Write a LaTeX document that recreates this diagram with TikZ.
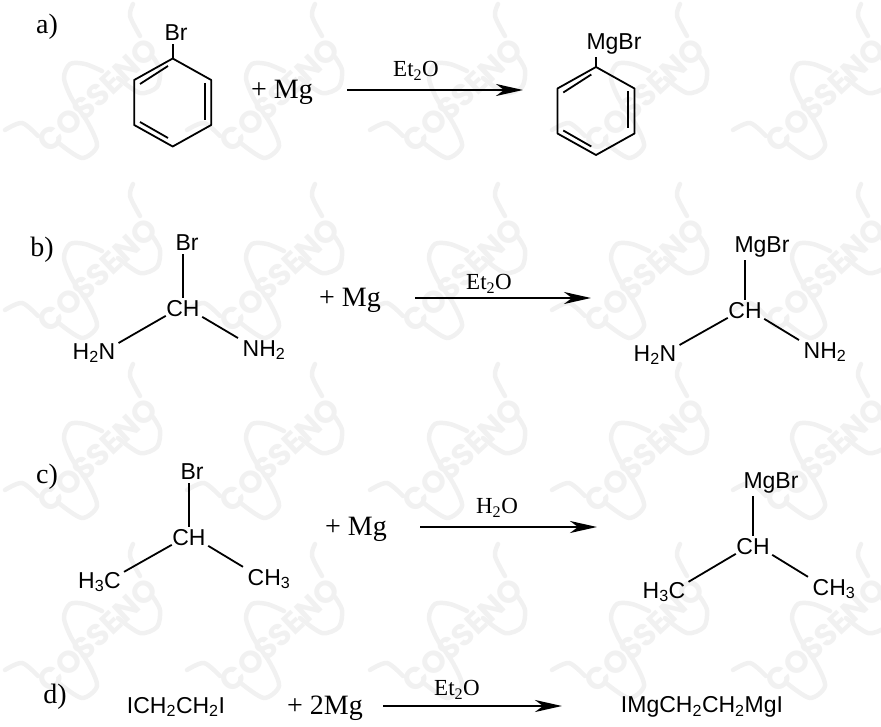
\documentclass[tikz,border=0pt]{standalone}
\usepackage{fontspec}
\setmainfont{Liberation Serif}
\setsansfont{Liberation Sans}
\newfontfamily\wmfont{Poppins}
\usetikzlibrary{arrows.meta}
\definecolor{wmgray}{HTML}{F1F1F1}
\tikzset{%
  >={Stealth[length=27pt,width=12pt,inset=8pt]},
  % Specifications for style of nodes:
     atoms/.style = {font=\sffamily\fontsize{23}{23}\selectfont, inner sep=3pt},
     serif/.style = {font=\rmfamily\fontsize{28}{28}\selectfont, inner sep=1pt},
      cond/.style = {font=\rmfamily\fontsize{23}{23}\selectfont, inner sep=1pt},
      bond/.style = {line width=1.8pt, black},
   rxnline/.style = {->, line width=2.5pt, black},
  wmstroke/.style = {line width=4.5pt, wmgray, line cap=round},
  benzene/.pic = {
    \coordinate (-top) at (0,-44);
    \draw[bond, line join=round] (-top) -- (38.5,-22.5) -- (38.5,22.5) -- (0,44)
       -- (-38.5,22.5) -- (-38.5,-22.5) -- cycle;
    \draw[bond] (-32.7,-18.5) -- (-4.7,-36.5);
    \draw[bond] (32.3,-19.5) -- (32.3,17.5);
    \draw[bond] (-32.7,19.5) -- (-4.7,35.5);
  },
  wmark/.pic = {
    \draw[wmstroke] plot[smooth] coordinates {(0,0) (17,-7) (33,6)};
    \draw[wmstroke] plot[smooth] coordinates {(55,14) (77,28) (92,16) (83,-7)
       (67,-31) (59,-52) (65,-66) (80,-66) (97,-59)};
    \draw[wmstroke] plot[smooth] coordinates {(128,-126) (125,-114) (135,-94)};
    \draw[wmstroke] plot[smooth] coordinates {(113,-52) (135,-37) (152,-43)
       (155,-60) (148,-73)};
    \node (-txt) at (92.5,-34.5) [rotate=43, wmgray, font=\wmfont\bfseries\fontsize{31}{31}\selectfont]
       {COSSENO};
  },
}
% the two lower arms of a CH centre
\newcommand\armbonds[3]{%
  \draw[bond] ([shift={(2.6pt,4.5pt)}]#1.south west) -- ([shift={(0pt,-3pt)}]#2.north east);
  \draw[bond] ([shift={(-0.6pt,3.5pt)}]#1.south east) -- ([shift={(-1.5pt,-1pt)}]#3.north west);
}
\begin{document}
\begin{tikzpicture}[x=1pt, y=-1pt]
\useasboundingbox (0,0) rectangle (881,727);
\clip (0,0) rectangle (881,727);
% Watermark behind everything
\foreach \col/\xx in {0/5, 1/187, 2/370, 3/552, 4/733}
  \foreach \row/\yy in {0/130, 1/310, 2/490, 3/670}
    \pic (wm\col\row) at (\xx,\yy) {wmark};
% Reaction a
\node (tagA)  [serif] at (47,27)  {a)};
\pic  (ringA) at (172.7,102.5) {benzene};
\node (brA)   [atoms] at (176,33) {Br};
\node (mgA)   [serif] at (282,92) {+ Mg};
\node (etA)   [cond]  at (416,71) {Et\textsubscript{2}O};
\coordinate (fromA) at (347,90);
\coordinate (toA)   at (523,90);
\pic  (ringAp) at (596,111) {benzene};
\node (mgbrA) [atoms] at (614,44) {MgBr};
\draw[bond]    (ringA-top) -- (ringA-top |- brA.south);
\draw[bond]    (ringAp-top) -- (ringAp-top |- mgbrA.south);
\draw[rxnline] (fromA) -- (toA);
% Reaction b
\node (tagB)   [serif] at (42,250)  {b)};
\node (brB)    [atoms] at (187,243) {Br};
\node (chB)    [atoms] at (183,309) {CH};
\node (hnB)    [atoms] at (94,353)  {H\textsubscript{2}N};
\node (nhB)    [atoms] at (264,350) {NH\textsubscript{2}};
\node (mgB)    [serif] at (350,300) {+ Mg};
\node (etB)    [cond]  at (489,284) {Et\textsubscript{2}O};
\coordinate (fromB) at (415,298);
\coordinate (toB)   at (591,298);
\node (mgbrB)  [atoms] at (762,247) {MgBr};
\node (chBp)   [atoms] at (745,311) {CH};
\node (hnBp)   [atoms] at (655,355) {H\textsubscript{2}N};
\node (nhBp)   [atoms] at (825,352) {NH\textsubscript{2}};
\draw[bond]    (chB.north) -- (chB.north |- brB.south);
\armbonds{chB}{hnB}{nhB}
\draw[rxnline] (fromB) -- (toB);
\draw[bond]    (chBp.north) -- (chBp.north |- mgbrB.south);
\armbonds{chBp}{hnBp}{nhBp}
% Reaction c
\node (tagC)   [serif] at (47,477)  {c)};
\node (brC)    [atoms] at (192,472) {Br};
\node (chC)    [atoms] at (189,538) {CH};
\node (hcC)    [atoms] at (99.5,582) {H\textsubscript{3}C};
\node (chtC)   [atoms] at (269,579) {CH\textsubscript{3}};
\node (mgC)    [serif] at (356,529) {+ Mg};
\node (waterC) [cond]  at (497,508) {H\textsubscript{2}O};
\coordinate (fromC) at (420,527);
\coordinate (toC)   at (597,527);
\node (mgbrC)  [atoms] at (771,483) {MgBr};
\node (chCp)   [atoms] at (753,547) {CH};
\node (hcCp)   [atoms] at (664,592) {H\textsubscript{3}C};
\node (chtCp)  [atoms] at (834,589) {CH\textsubscript{3}};
\draw[bond]    (chC.north) -- (chC.north |- brC.south);
\armbonds{chC}{hcC}{chtC}
\draw[rxnline] (fromC) -- (toC);
\draw[bond]    (chCp.north) -- (chCp.north |- mgbrC.south);
\armbonds{chCp}{hcCp}{chtCp}
% Reaction d
\node (tagD)   [serif] at (55,697)  {d)};
\node (iodoD)  [atoms] at (176,707) {ICH\textsubscript{2}CH\textsubscript{2}I};
\node (mgD)    [serif] at (325,708) {+ 2Mg};
\node (etD)    [cond]  at (457,690) {Et\textsubscript{2}O};
\coordinate (fromD) at (383,706);
\coordinate (toD)   at (562,706);
\node (prodD)  [atoms] at (702,707) {IMgCH\textsubscript{2}CH\textsubscript{2}MgI};
\draw[rxnline] (fromD) -- (toD);
\end{tikzpicture}
\end{document}
